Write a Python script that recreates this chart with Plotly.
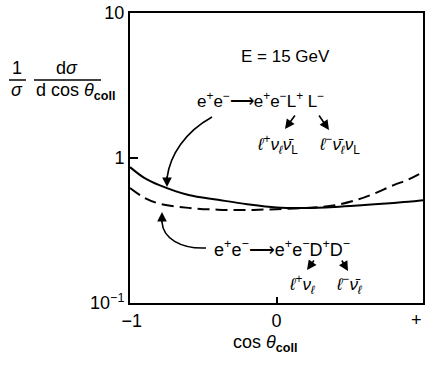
import plotly.graph_objects as go

# ---- data ----
cos_theta = [-1, -0.9, -0.8, -0.6, -0.4, -0.2, 0, 0.2, 0.4, 0.6, 0.8, 0.9, 1]
heavy_lepton = [0.865, 0.726, 0.65, 0.555, 0.515, 0.48, 0.456, 0.452, 0.46, 0.474, 0.49, 0.50, 0.512]
scalar_pair = [0.62, 0.53, 0.485, 0.453, 0.44, 0.438, 0.444, 0.452, 0.472, 0.535, 0.65, 0.71, 0.80]
y_tickvals = [0.1, 1, 10]
y_ticktext = ["10<sup>−1</sup>", "1", "10"]
x_tickvals = [-1, 0, 1]
x_ticktext = ["\u2009−1", "0", ""]
x_end_label = "+"

FONT = "Liberation Sans"
W, H = 425, 366
PL, PT, PR, PB = 130, 13, 423, 303   # plot frame in page pixels
L, T, R, B = PL, PT, W - PR, H - PB


def P(px, py):
    return (px - PL) / (PR - PL), (PB - py) / (PB - PT)


fig = go.Figure()
fig.add_trace(go.Scatter(x=cos_theta, y=heavy_lepton, mode="lines",
                         line=dict(color="black", width=2, shape="spline"),
                         showlegend=False))
fig.add_trace(go.Scatter(x=cos_theta, y=scalar_pair, mode="lines",
                         line=dict(color="black", width=2, dash="12px,6px", shape="spline"),
                         showlegend=False))

annotations = []
shapes = []


def text(px, py, s, size=17, xanchor="center"):
    x, y = P(px, py)
    annotations.append(dict(x=x, y=y, xref="paper", yref="paper", text=s, showarrow=False,
                            xanchor=xanchor, yanchor="middle",
                            font=dict(family=FONT, size=size, color="black")))


def arrow(hx, hy, tx, ty):
    x, y = P(hx, hy)
    annotations.append(dict(x=x, y=y, xref="paper", yref="paper", text="", showarrow=True,
                            ax=tx - hx, ay=ty - hy, arrowhead=2, arrowsize=1.2,
                            arrowwidth=1.6, arrowcolor="black"))


def hline(x0, x1, py):
    a, b = P(x0, py)
    c, _ = P(x1, py)
    shapes.append(dict(type="line", xref="paper", yref="paper", x0=a, x1=c, y0=b, y1=b,
                       line=dict(color="black", width=1.5)))


def curve(points):
    (x0, y0), (c1x, c1y), (c2x, c2y), (x1, y1) = [P(*p) for p in points]
    path = f"M {x0},{y0} C {c1x},{c1y} {c2x},{c2y} {x1},{y1}"
    shapes.append(dict(type="path", xref="paper", yref="paper", path=path,
                       line=dict(color="black", width=1.6)))


# "+" label at the right end of the x axis (kept inside the page)
annotations.append(dict(x=x_tickvals[-1], y=0, xref="x", yref="paper", text=x_end_label,
                        showarrow=False, xanchor="center", yanchor="top", xshift=-7, yshift=-5,
                        font=dict(family=FONT, size=18, color="black")))

# y-axis title as fractions
text(17, 68, "1", 18)
hline(9, 26, 80)
text(17, 90, "<i>σ</i>", 18)
text(67, 68, "d<i>σ</i>", 18)
hline(34, 101, 80)
text(34, 91, "d cos <i>θ</i><sub><b>coll</b></sub>", 18, xanchor="left")

# x-axis title
text(265, 343, "cos <i>θ</i><sub><b>coll</b></sub>", 18)

# in-plot labels
text(285, 57, "E = 15 GeV", 17)
text(260, 100, "e<sup>+</sup>e<sup>−</sup>⟶e<sup>+</sup>e<sup>−</sup>L<sup>+</sup> L<sup>−</sup>", 17)
text(277, 144, "<i>ℓ</i><sup>+</sup><i>ν</i><sub><i>ℓ</i></sub><i>ν̄</i><sub>L</sub>", 17)
text(339, 144, "<i>ℓ</i><sup>−</sup><i>ν̄</i><sub><i>ℓ</i></sub><i>ν</i><sub>L</sub>", 17)
arrow(285, 129, 296, 114)
arrow(329, 130, 318, 114)

text(282, 248, "e<sup>+</sup>e<sup>−</sup>⟶e<sup>+</sup>e<sup>−</sup>D<sup>+</sup>D<sup>−</sup>", 18)
text(302, 284, "<i>ℓ</i><sup>+</sup><i>ν</i><sub><i>ℓ</i></sub>", 17)
text(349, 284, "<i>ℓ</i><sup>−</sup><i>ν̄</i><sub><i>ℓ</i></sub>", 17)
arrow(307, 270, 315, 259)
arrow(348, 271, 341, 259)

# curved arrows
curve([(212, 117), (185, 132), (170, 155), (167, 178)])
arrow(167, 187, 167, 175)
curve([(206, 248), (180, 249), (163, 238), (162, 222)])
arrow(162, 212, 162, 224)

fig.update_layout(
    width=W, height=H,
    margin=dict(l=L, r=R, t=T, b=B, pad=0, autoexpand=False),
    paper_bgcolor="white", plot_bgcolor="white",
    font=dict(family=FONT, size=18, color="black"),
    annotations=annotations, shapes=shapes,
    xaxis=dict(range=[-1, 1], tickvals=x_tickvals, ticktext=x_ticktext,
               showline=True, mirror=True, linecolor="black", linewidth=2,
               ticks="inside", ticklen=6, tickwidth=1.5, tickcolor="black",
               ticklabeloverflow="allow",
               showgrid=False, zeroline=False, tickfont=dict(size=18)),
    yaxis=dict(type="log", range=[-1, 1], tickvals=y_tickvals, ticktext=y_ticktext,
               showline=True, mirror=True, linecolor="black", linewidth=2,
               ticks="inside", ticklen=8, tickwidth=1.5, tickcolor="black",
               ticklabeloverflow="allow",
               showgrid=False, zeroline=False, tickfont=dict(size=18)),
)

fig.write_html("out.html", config={"displayModeBar": False},
               post_script="document.body.style.margin='0';")
